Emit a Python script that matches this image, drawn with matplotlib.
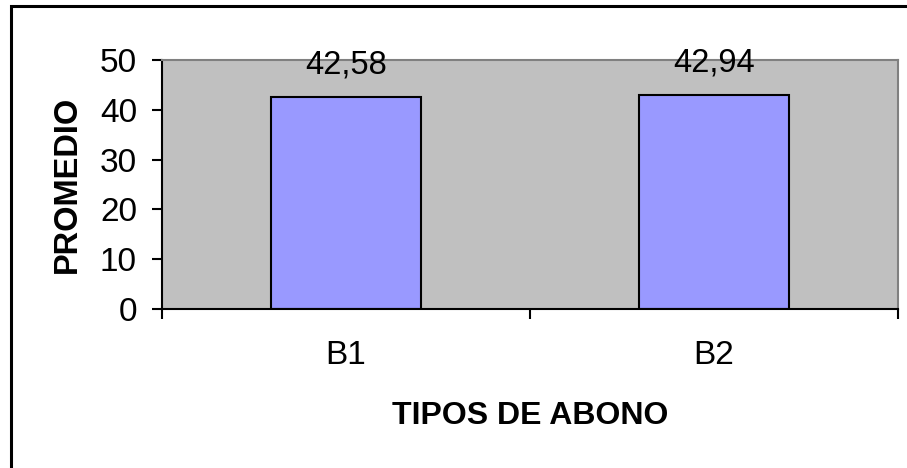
import matplotlib.pyplot as plt
from matplotlib.patches import Rectangle

plt.rcParams['font.family'] = ['Liberation Sans', 'DejaVu Sans']

tipos = ['B1', 'B2']
promedio = [42.58, 42.94]
y_ticks = [0, 10, 20, 30, 40, 50]


def main():
    fig = plt.figure(figsize=(9.07, 4.68), dpi=100)
    ax = fig.add_axes([0.1786, 0.3397, 0.8114, 0.5321])
    ax.set_facecolor('#C0C0C0')

    x = list(range(len(tipos)))
    ax.bar(x, promedio, width=0.41, color='#9999FF',
           edgecolor='black', linewidth=1.5, zorder=2)

    for xi, val in zip(x, promedio):
        ax.text(xi, val + 4.8, f'{val:.2f}'.replace('.', ','),
                ha='center', va='baseline', fontsize=23.5, zorder=3,
                clip_on=False)

    ax.set_xlim(-0.5, len(tipos) - 0.5)
    ax.set_ylim(0, 50)
    ax.set_yticks(y_ticks)
    ax.set_xticks(x)
    ax.set_xticklabels(tipos)
    ax.set_xticks([i - 0.5 for i in range(len(tipos) + 1)], minor=True)

    ax.tick_params(axis='y', which='major', direction='out', length=7,
                   width=1.5, labelsize=24, pad=11)
    ax.tick_params(axis='x', which='major', length=0, labelsize=24, pad=22)
    ax.tick_params(axis='x', which='minor', direction='out', length=7,
                   width=1.5)

    for side in ['left', 'bottom']:
        ax.spines[side].set_color('black')
        ax.spines[side].set_linewidth(1.5)
    for side in ['top', 'right']:
        ax.spines[side].set_color('#808080')
        ax.spines[side].set_linewidth(1.5)

    ax.set_ylabel('PROMEDIO', fontsize=23.5, fontweight='bold', labelpad=12)
    ax.set_xlabel('TIPOS DE ABONO', fontsize=23, fontweight='bold', labelpad=22)

    # chart frame, only the left and top edges fall inside the image
    fig.patches.append(Rectangle((11 / 907, -0.1), 1.2, 1 - 6 / 468 + 0.1,
                                 transform=fig.transFigure, fill=False,
                                 edgecolor='black', linewidth=2.2))

    fig.savefig('out.png', dpi=100)


if __name__ == "__main__":
    main()
